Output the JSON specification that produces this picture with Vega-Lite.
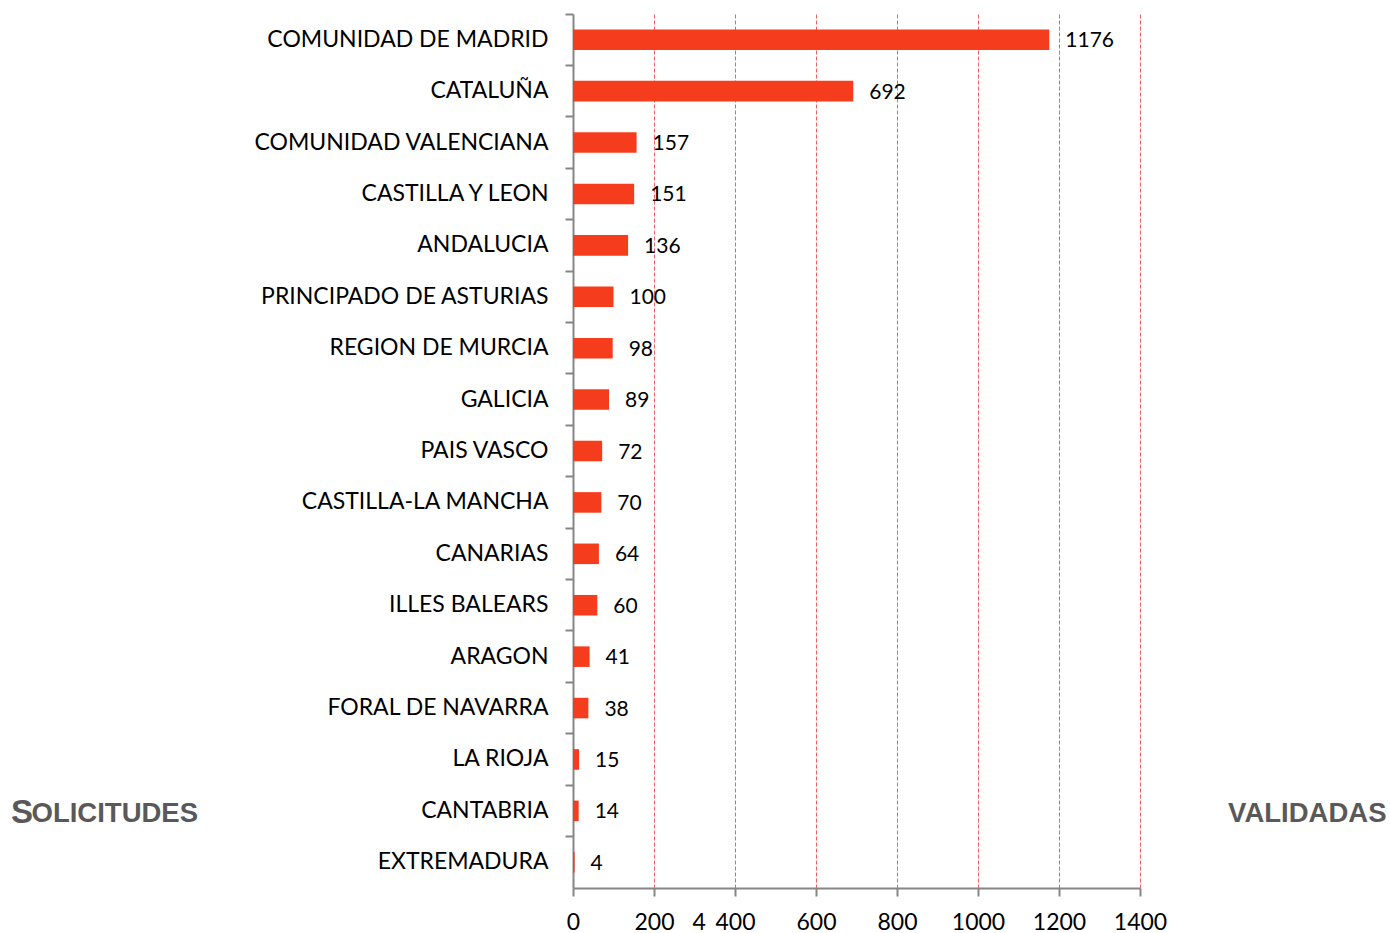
{
  "$schema": "https://vega.github.io/schema/vega-lite/v6.json",
  "width": 567,
  "height": 874,
  "autosize": {"type": "none"},
  "padding": {"left": 573, "top": 14, "right": 250, "bottom": 45},
  "background": "white",
  "config": {"view": {"stroke": null}},
  "title": {"text": "S", "orient": "top", "anchor": "start", "frame": "group", "offset": 0, "dx": -562, "dy": 843, "font": "Liberation Sans", "fontSize": 33, "fontWeight": "bold", "color": "#595959", "baseline": "alphabetic"},
  "data": {"values": [
    {"region": "COMUNIDAD DE MADRID", "value": 1176},
    {"region": "CATALUÑA", "value": 692},
    {"region": "COMUNIDAD VALENCIANA", "value": 157},
    {"region": "CASTILLA Y LEON", "value": 151},
    {"region": "ANDALUCIA", "value": 136},
    {"region": "PRINCIPADO DE ASTURIAS", "value": 100},
    {"region": "REGION DE MURCIA", "value": 98},
    {"region": "GALICIA", "value": 89},
    {"region": "PAIS VASCO", "value": 72},
    {"region": "CASTILLA-LA MANCHA", "value": 70},
    {"region": "CANARIAS", "value": 64},
    {"region": "ILLES BALEARS", "value": 60},
    {"region": "ARAGON", "value": 41},
    {"region": "FORAL DE NAVARRA", "value": 38},
    {"region": "LA RIOJA", "value": 15},
    {"region": "CANTABRIA", "value": 14},
    {"region": "EXTREMADURA", "value": 4}
  ]},
  "layer": [
    {
      "mark": {"type": "bar", "height": {"band": 0.4}, "color": "#f53c1c"},
      "encoding": {
        "y": {
          "field": "region", "type": "nominal", "sort": null,
          "scale": {"paddingInner": 0, "paddingOuter": 0},
          "axis": {
            "title": "OLICITUDES", "titleAngle": 0, "titleAlign": "left", "titleBaseline": "alphabetic",
            "titleX": -542, "titleY": 807, "titleFont": "Liberation Sans", "titleFontSize": 27.5,
            "titleFontWeight": "bold", "titleColor": "#595959",
            "bandPosition": 0, "domainColor": "#868686", "domainWidth": 2,
            "tickColor": "#868686", "tickWidth": 2, "tickSize": 8,
            "labelFont": "Lato", "labelFontSize": 23, "labelColor": "#000000",
            "labelPadding": 17, "labelLimit": 400, "grid": false
          }
        },
        "x": {
          "field": "value", "type": "quantitative",
          "scale": {"domain": [0, 1400], "nice": false},
          "axis": {
            "title": "VALIDADAS", "titleAlign": "right", "titleBaseline": "alphabetic",
            "titleX": 813, "titleY": -67, "titleFont": "Liberation Sans", "titleFontSize": 27.5,
            "titleFontWeight": "bold", "titleColor": "#595959",
            "values": [0, 200, 310, 400, 600, 800, 1000, 1200, 1400],
            "labelExpr": "datum.value == 310 ? '4' : format(datum.value, 'd')",
            "labelOverlap": false, "labelFlush": false,
            "labelFont": "Lato", "labelFontSize": 23, "labelColor": "#000000", "labelPadding": 15,
            "tickSize": 8, "tickColor": "#868686", "tickWidth": 2,
            "tickOpacity": {"condition": {"test": "datum.value == 310", "value": 0}, "value": 1},
            "domainColor": "#868686", "domainWidth": 2,
            "grid": true, "gridColor": "#f06060", "gridDash": [4, 2], "gridWidth": 1,
            "gridOpacity": {"condition": {"test": "datum.value == 310 || datum.value == 0", "value": 0}, "value": 1}
          }
        }
      }
    },
    {
      "mark": {"type": "text", "align": "left", "baseline": "middle", "dx": 16, "dy": 1.5, "font": "Lato", "fontSize": 21, "color": "#000000"},
      "encoding": {
        "y": {"field": "region", "type": "nominal", "sort": null},
        "x": {"field": "value", "type": "quantitative"},
        "text": {"field": "value", "type": "quantitative"}
      }
    }
  ]
}
